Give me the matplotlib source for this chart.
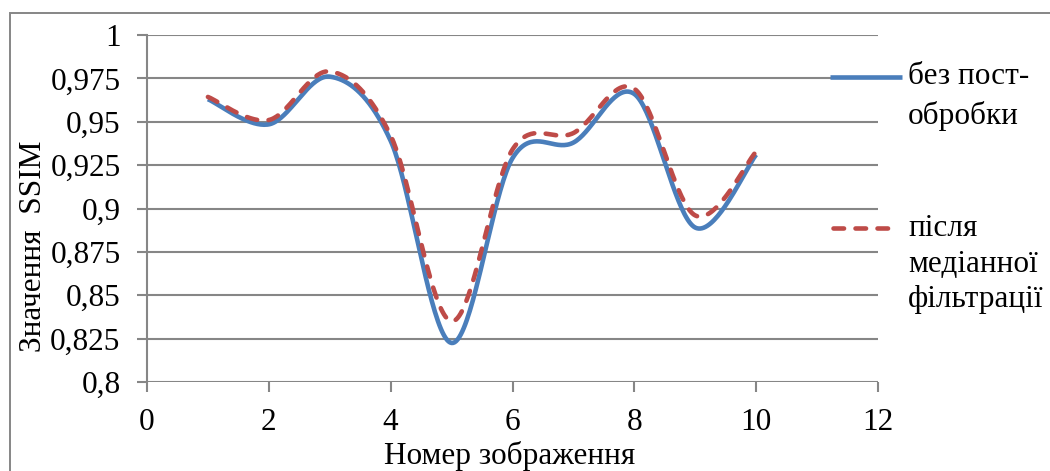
import numpy as np
import matplotlib
matplotlib.use("Agg")
import matplotlib.pyplot as plt
from matplotlib.lines import Line2D
from matplotlib.patches import Rectangle

plt.rcParams['font.family'] = ['Liberation Serif', 'DejaVu Serif']

# Image numbers and SSIM values
image_numbers = [1, 2, 3, 4, 5, 6, 7, 8, 9, 10]
ssim_raw = [0.963, 0.9485, 0.976, 0.939, 0.8225, 0.929, 0.938, 0.966, 0.889, 0.931]
ssim_median = [0.9643, 0.951, 0.979, 0.942, 0.835, 0.934, 0.9435, 0.969, 0.896, 0.9328]

label_raw = "без пост-\nобробки"
label_median = "після\nмедіанної\nфільтрації"
x_ticks = [0, 2, 4, 6, 8, 10, 12]
y_ticks = [0.8, 0.825, 0.85, 0.875, 0.9, 0.925, 0.95, 0.975, 1.0]
y_tick_labels = ["0,8", "0,825", "0,85", "0,875", "0,9", "0,925", "0,95", "0,975", "1"]

BLUE = "#4A7EBB"
RED = "#BE4B48"
GRID = "#868686"
FS = 22.5
LW = 3.3
DASH = (0, (2.3, 2.5))


def smooth(xs, ys, n=40):
    """Cubic Bezier smoothing through every point (spreadsheet-style)."""
    x = np.asarray(xs, float)
    y = np.asarray(ys, float)
    px, py = [], []
    m = len(x)
    for i in range(m - 1):
        i0 = max(i - 1, 0)
        i3 = min(i + 2, m - 1)
        c1x = x[i] + (x[i + 1] - x[i0]) / 6
        c1y = y[i] + (y[i + 1] - y[i0]) / 6
        c2x = x[i + 1] - (x[i3] - x[i]) / 6
        c2y = y[i + 1] - (y[i3] - y[i]) / 6
        t = np.linspace(0, 1, n, endpoint=(i == m - 2))
        a = (1 - t) ** 3
        b = 3 * (1 - t) ** 2 * t
        c = 3 * (1 - t) * t ** 2
        d = t ** 3
        px.append(a * x[i] + b * c1x + c * c2x + d * x[i + 1])
        py.append(a * y[i] + b * c1y + c * c2y + d * y[i + 1])
    return np.concatenate(px), np.concatenate(py)


fig = plt.figure(figsize=(10.5, 4.71), dpi=100)
ax = fig.add_axes([147 / 1050, 1 - 382 / 471, (878 - 147) / 1050, (382 - 35) / 471])

# outer chart frame
fig.patches.append(Rectangle((10 / 1050, -0.5), 2.0, 1.5 - 13 / 471, transform=fig.transFigure,
                             fill=False, edgecolor=GRID, linewidth=1.4, zorder=0))

for yv in y_ticks:
    ax.axhline(yv, color=GRID, linewidth=1.5, zorder=1)

sx, sy = smooth(image_numbers, ssim_raw)
ax.plot(sx, sy, color=BLUE, linewidth=LW, solid_capstyle='butt', zorder=3)
sx, sy = smooth(image_numbers, ssim_median)
ax.plot(sx, sy, color=RED, linewidth=LW, linestyle=DASH,
        dash_capstyle='round', zorder=4)

ax.set_xlim(0, 12)
ax.set_ylim(0.8, 1.0)
ax.set_xticks(x_ticks)
ax.set_xticklabels([str(v) for v in x_ticks])
ax.set_yticks(y_ticks)
ax.set_yticklabels(y_tick_labels)
ax.tick_params(axis='both', colors=GRID, labelcolor='black', labelsize=FS,
               length=7, width=1.5, direction='out')
ax.tick_params(axis='y', pad=12)
ax.tick_params(axis='x', pad=12)
for s in ['top', 'right', 'bottom']:
    ax.spines[s].set_visible(False)
ax.spines['left'].set_color(GRID)
ax.spines['left'].set_linewidth(1.5)

ax.set_xlabel("Номер зображення", fontsize=FS)
ax.xaxis.label.set_verticalalignment('baseline')
ax.xaxis.set_label_coords(510 / 1050, 1 - 464 / 471, transform=fig.transFigure)
fig.text(34 / 1050, 1 - 246 / 471, "Значення  SSIM", rotation=90, fontsize=FS,
         ha='center', va='center')

# legend
fig.lines.append(Line2D([830 / 1050, 902 / 1050], [1 - 77 / 471] * 2, transform=fig.transFigure,
                        color=BLUE, linewidth=LW, solid_capstyle='butt'))
fig.lines.append(Line2D([833 / 1050, 898 / 1050], [1 - 228 / 471] * 2, transform=fig.transFigure,
                        color=RED, linewidth=LW, linestyle=DASH,
                        dash_capstyle='round'))
fig.text(908 / 1050, 1 - 62 / 471, label_raw, fontsize=FS, ha='left', va='top',
         linespacing=1.45)
fig.text(908 / 1050, 1 - 214 / 471, label_median, fontsize=FS, ha='left', va='top',
         linespacing=1.3)

fig.savefig("out.png", dpi=100)
